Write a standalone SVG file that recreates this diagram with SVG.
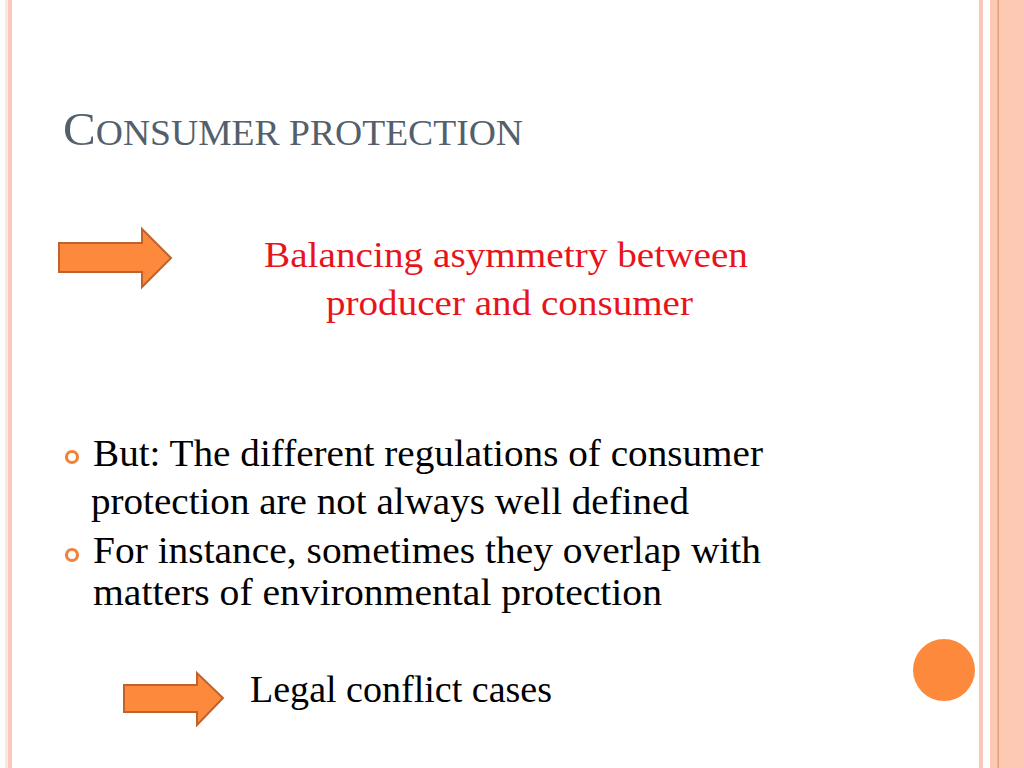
<svg xmlns="http://www.w3.org/2000/svg" width="1024" height="768" viewBox="0 0 1024 768">
<style>
.body{font-family:"Liberation Serif","DejaVu Serif",serif;font-size:37px;fill:#000}
.red{font-family:"Liberation Serif","DejaVu Serif",serif;font-size:36px;fill:#e8141c}
.title{font-family:"Liberation Serif","DejaVu Serif",serif;fill:#545f6c}
.arrow{fill:#fd8a3c;stroke:#c0622c;stroke-width:2;stroke-linejoin:miter}
.bullet{fill:none;stroke:#f0833a;stroke-width:3.2}
</style>
<rect width="1024" height="768" fill="#ffffff"/>
<g id="frame">
<rect x="5" y="0" width="3" height="768" fill="#fbe9dc"/>
<rect x="8" y="0" width="4" height="768" fill="#fcc8bc"/>
<rect x="979" y="0" width="4" height="768" fill="#fac8b9"/>
<rect x="990" y="0" width="34" height="768" fill="#fcc9b2"/>
<rect x="1008" y="0" width="16" height="768" fill="#fdc8b4"/>
<rect x="997.5" y="0" width="1.5" height="768" fill="#e4a07e"/>
</g>
<g id="title">
<text class="title" x="63" y="145" textLength="460" lengthAdjust="spacingAndGlyphs"><tspan font-size="47">C</tspan><tspan font-size="36">ONSUMER PROTECTION</tspan></text>
</g>
<g id="arrow1">
<polygon class="arrow" points="59,243 142,243 142,229 171,258 142,287 142,272 59,272"/>
</g>
<g id="statement">
<text class="red" x="264" y="267" textLength="484" lengthAdjust="spacingAndGlyphs">Balancing asymmetry between</text>
<text class="red" x="326" y="315" textLength="367" lengthAdjust="spacingAndGlyphs">producer and consumer</text>
</g>
<g id="bullets">
<circle class="bullet" cx="72" cy="457" r="5.5"/>
<circle class="bullet" cx="72" cy="555" r="5.5"/>
<text class="body" x="93" y="466" textLength="670" lengthAdjust="spacingAndGlyphs">But: The different regulations of consumer</text>
<text class="body" x="91" y="514" textLength="598" lengthAdjust="spacingAndGlyphs">protection are not always well defined</text>
<text class="body" x="93" y="563" textLength="668" lengthAdjust="spacingAndGlyphs">For instance, sometimes they overlap with</text>
<text class="body" x="93" y="605" textLength="569" lengthAdjust="spacingAndGlyphs">matters of environmental protection</text>
</g>
<g id="arrow2">
<polygon class="arrow" points="124,685 197,685 197,673 223,698 197,725 197,712 124,712"/>
</g>
<g id="conclusion">
<text class="body" x="250" y="702" textLength="302" lengthAdjust="spacingAndGlyphs">Legal conflict cases</text>
</g>
<g id="decor">
<circle cx="944" cy="670" r="31" fill="#fd8a3c"/>
</g>
</svg>
